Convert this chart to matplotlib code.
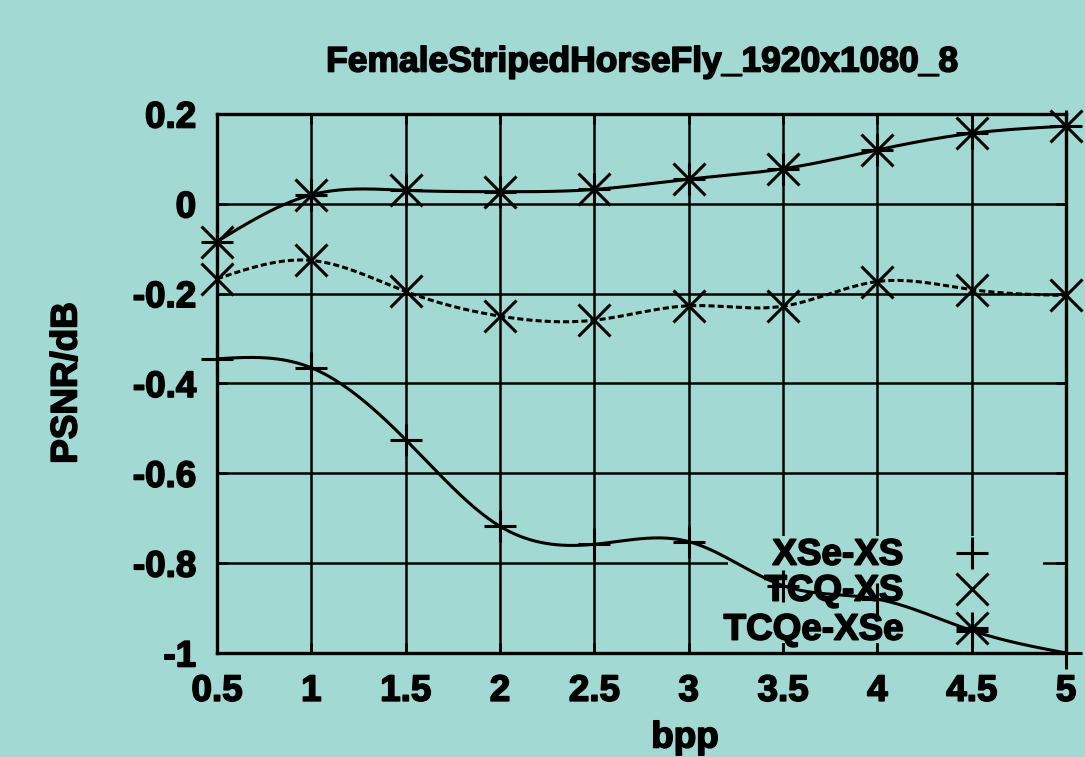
import numpy as np
import matplotlib.pyplot as plt
import matplotlib.patheffects as pe
from matplotlib.patches import Rectangle

# values
bpp = [0.5, 1, 1.5, 2, 2.5, 3, 3.5, 4, 4.5, 5]
xse_xs = [-0.345, -0.365, -0.525, -0.718, -0.758, -0.752, -0.85, -0.88, -0.95, -1.0]
tcq_xs = [-0.167, -0.126, -0.195, -0.25, -0.259, -0.227, -0.228, -0.173, -0.191, -0.204]
tcqe_xse = [-0.084, 0.02, 0.03, 0.027, 0.032, 0.055, 0.078, 0.12, 0.157, 0.173]
labels = ['XSe-XS', 'TCQ-XS', 'TCQe-XSe']
title = 'FemaleStripedHorseFly_1920x1080_8'

bg = '#a3d9d3'
fs = 26.5
heavy = [pe.withStroke(linewidth=1.2, foreground='black')]


def csplines(x, y, n=400):
    # natural cubic spline, like gnuplot's "smooth csplines"
    x = np.asarray(x, float)
    y = np.asarray(y, float)
    h = np.diff(x)
    m = len(x)
    A = np.zeros((m, m))
    r = np.zeros(m)
    A[0, 0] = A[-1, -1] = 1
    for i in range(1, m - 1):
        A[i, i - 1] = h[i - 1]
        A[i, i] = 2 * (h[i - 1] + h[i])
        A[i, i + 1] = h[i]
        r[i] = 3 * ((y[i + 1] - y[i]) / h[i] - (y[i] - y[i - 1]) / h[i - 1])
    c = np.linalg.solve(A, r)
    b = (y[1:] - y[:-1]) / h - h * (2 * c[:-1] + c[1:]) / 3
    d = (c[1:] - c[:-1]) / (3 * h)
    xs = np.linspace(x[0], x[-1], n)
    idx = np.clip(np.searchsorted(x, xs) - 1, 0, m - 2)
    t = xs - x[idx]
    ys = y[idx] + b[idx] * t + c[idx] * t ** 2 + d[idx] * t ** 3
    return xs, ys


plt.rcParams['font.family'] = ['Liberation Sans', 'DejaVu Sans']
plt.rcParams['font.weight'] = 'bold'

fig = plt.figure(figsize=(10.85, 7.57), dpi=100, facecolor=bg)
ax = fig.add_axes([0.2, 0.1374, 0.7825, 0.712])
ax.set_facecolor(bg)

ax.set_xlim(0.5, 5)
ax.set_ylim(-1, 0.2)
ax.set_xticks(bpp)
ax.set_xticklabels(['0.5', '1', '1.5', '2', '2.5', '3', '3.5', '4', '4.5', '5'])
ax.set_yticks([-1, -0.8, -0.6, -0.4, -0.2, 0, 0.2])
ax.set_yticklabels(['-1', '-0.8', '-0.6', '-0.4', '-0.2', '0', '0.2'])
ax.set_axisbelow(True)
ax.grid(True, color='black', linewidth=1.8)
ax.tick_params(direction='in', length=7, width=1.8, top=True, right=True,
               labelsize=fs)
ax.tick_params(axis='x', pad=15)
ax.tick_params(axis='y', pad=15)
for lab in ax.get_xticklabels() + ax.get_yticklabels():
    lab.set_path_effects(heavy)
for s in ax.spines.values():
    s.set_linewidth(2.4)
    s.set_zorder(5)

# opaque key area, sits over the grid
ax.add_patch(Rectangle((0.602, 0.0186), 0.371, 0.199, transform=ax.transAxes,
                       facecolor=bg, edgecolor='none', zorder=1))

mk = dict(markersize=23, markeredgewidth=2.2, color='black', linestyle='none',
          clip_on=False, zorder=4)

# smooth curves
xs, ys = csplines(bpp, xse_xs)
ax.plot(xs, ys, color='black', lw=2.2, zorder=3)
xs, ys = csplines(bpp, tcq_xs)
ax.plot(xs, ys, color='black', lw=2.2, linestyle=(0, (2, 1)), zorder=3)
xs, ys = csplines(bpp, tcqe_xse)
ax.plot(xs, ys, color='black', lw=2.2, zorder=3)

# points
ax.plot(bpp, xse_xs, marker='+', **mk)
ax.plot(bpp, tcq_xs, marker='x', **mk)
ax.plot(bpp, tcqe_xse, marker='+', **mk)
ax.plot(bpp, tcqe_xse, marker='x', **mk)

# key, right-justified text like gnuplot
key_y = [0.1855, 0.1187, 0.0464]
key_m = [['+'], ['x'], ['+', 'x']]
for lab, yy, ms in zip(labels, key_y, key_m):
    ax.text(0.808, yy - 0.004, lab, transform=ax.transAxes, ha='right',
            va='center', fontsize=fs, fontweight='bold', zorder=2,
            path_effects=heavy)
    for m in ms:
        ax.plot([0.889], [yy], marker=m, transform=ax.transAxes, **mk)

fig.text(0.592, 1 - 62 / 757, title, ha='center', va='center', fontsize=25.5,
         fontweight='bold', path_effects=heavy)
fig.text(67 / 1085, 1 - 383 / 757, 'PSNR/dB', rotation=90, ha='center',
         va='center', fontsize=fs, fontweight='bold', path_effects=heavy)
fig.text(685 / 1085, 0.002, 'bpp', ha='center', va='bottom', fontsize=fs,
         fontweight='bold', path_effects=heavy)

fig.savefig('out.png', dpi=100, facecolor=bg)
